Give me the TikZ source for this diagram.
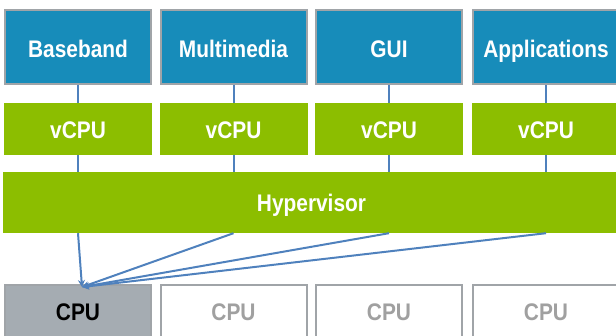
\documentclass[tikz,border=0pt]{standalone}
\usepackage{fontspec}
\setmainfont{Liberation Sans}
\newfontfamily\labfont[FakeStretch=0.87]{Liberation Sans}
\usetikzlibrary{arrows.meta}
\definecolor{appblue}{RGB}{23,140,186}
\definecolor{vgreen}{RGB}{140,190,0}
\definecolor{boxgray}{RGB}{160,164,168}
\definecolor{cpufill}{RGB}{165,172,178}
\definecolor{linkblue}{RGB}{79,129,189}
\definecolor{cputext}{RGB}{160,160,160}
\tikzset{
  lbl/.style={font=\labfont\bfseries\fontsize{24}{26}\selectfont, text height=20pt, text depth=2pt},
  appbox/.style={lbl, text height=22pt, draw=boxgray, line width=2pt, fill=appblue, text=white, minimum width=146pt, minimum height=74pt, inner sep=0pt},
  vcpubox/.style={lbl, fill=vgreen, text=white, minimum width=148pt, minimum height=52pt, inner sep=0pt},
  hypbox/.style={lbl, fill=vgreen, text=white, minimum width=617pt, minimum height=61pt, inner sep=0pt},
  cpubox/.style={lbl, draw=boxgray, line width=2pt, minimum width=146pt, minimum height=52pt, inner sep=0pt, text=cputext},
  link/.style={draw=linkblue, line width=2pt},
  arr/.style={link, -{Stealth[length=7pt,width=7pt]}}
}
\begin{document}
\begin{tikzpicture}[x=1pt,y=-1pt]
\useasboundingbox (0,0) rectangle (616,335);
% application boxes
\node[appbox] (a1) at (78,47) {Baseband};
\node[appbox] (a2) at (233.5,47) {Multimedia};
\node[appbox] (a3) at (389,47) {GUI};
\node[appbox] (a4) at (546,47) {Applications};
% vCPU boxes
\node[vcpubox] (v1) at (78,129) {vCPU};
\node[vcpubox] (v2) at (233.5,129) {vCPU};
\node[vcpubox] (v3) at (389,129) {vCPU};
\node[vcpubox] (v4) at (546,129) {vCPU};
% hypervisor
\node[hypbox] (hyp) at (311.5,202.5) {Hypervisor};
% CPUs
\node[cpubox, fill=cpufill, text=black] (c1) at (78,311) {CPU};
\node[cpubox] (c2) at (233.5,311) {CPU};
\node[cpubox] (c3) at (389,311) {CPU};
\node[cpubox] (c4) at (546,311) {CPU};
% connectors
\foreach \i in {1,2,3,4} {
  \draw[link] (a\i.south) -- (v\i.north);
  \draw[link] (v\i.south) -- (v\i.south |- hyp.north);
  \coordinate (h\i) at (v\i.south |- hyp.south);
}
\coordinate (tip) at (82,287);
\draw[arr] (h1) -- (tip);
\draw[arr] (h2) -- (tip);
\draw[arr] (h3) -- (tip);
\draw[arr] (h4) -- (tip);
\end{tikzpicture}
\end{document}
